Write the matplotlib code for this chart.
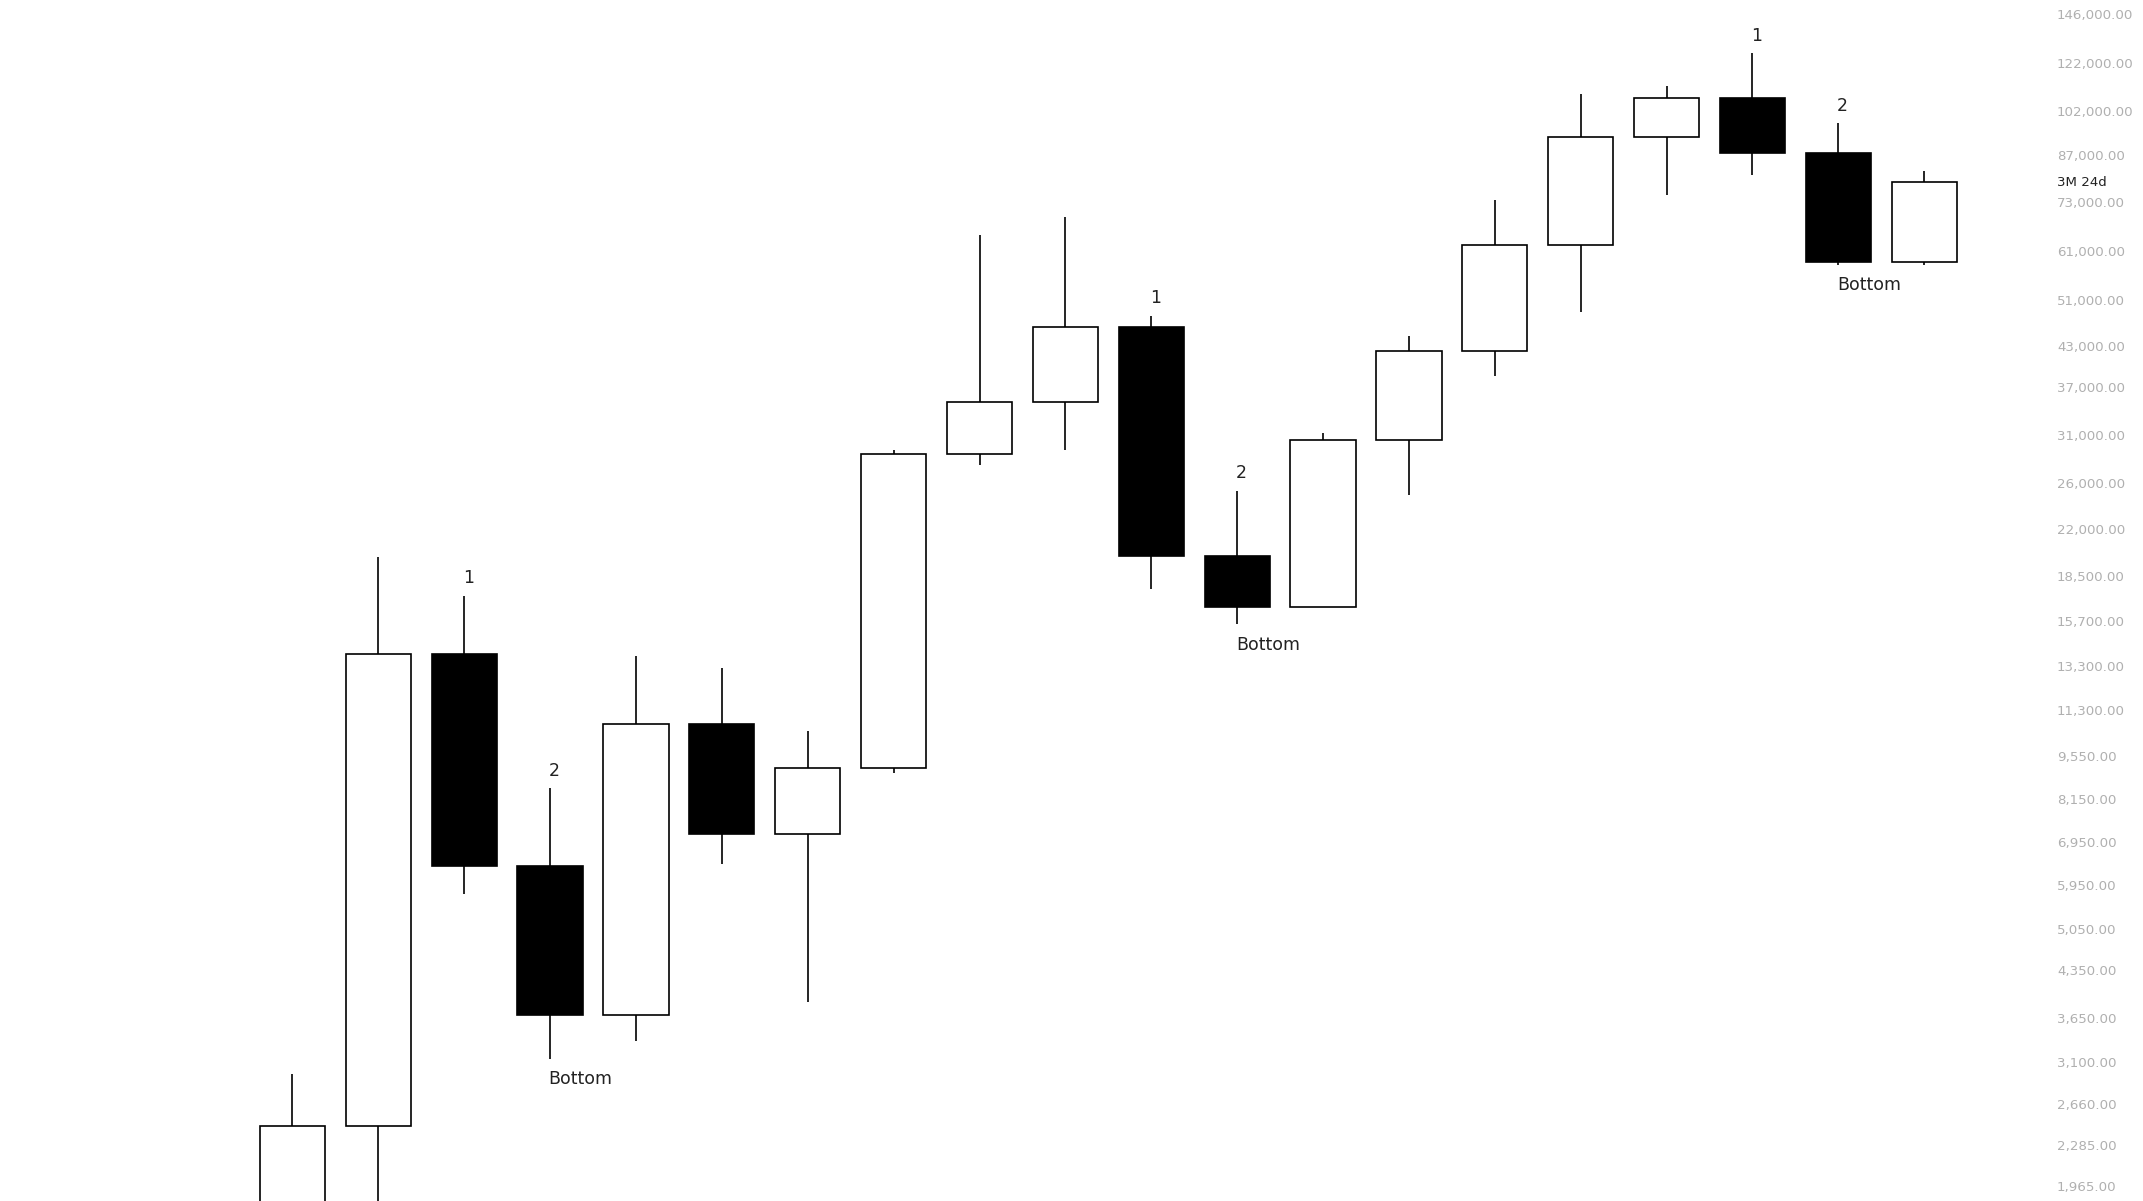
import matplotlib.pyplot as plt
import numpy as np

# quarterly candles (3M), log price scale
opens  = [1500, 2455, 13870, 6364, 3683, 10730, 7182, 9140, 28990, 35090,
          46250, 19900, 16530, 30500, 42250, 62520, 92930, 106960, 87500, 58550]
closes = [2455, 13870, 6364, 3683, 10730, 7182, 9140, 28990, 35090, 46250,
          19900, 16530, 30500, 42250, 62520, 92930, 106960, 87500, 58550, 78740]
highs  = [2968, 19800, 17200, 8480, 13800, 13190, 10470, 29400, 64700, 69100,
          48150, 25320, 31270, 44650, 73760, 108600, 111900, 126200, 97720, 81970]
lows   = [1300, 1500, 5758, 3138, 3348, 6427, 3872, 8960, 27860, 29430,
          17640, 15480, 16530, 24930, 38600, 48880, 74890, 80740, 58000, 58000]

# pattern labels: (candle index, text, above/below)
marks = [(2, '1', 'top'), (3, '2', 'top'), (3, 'Bottom', 'bot'),
         (10, '1', 'top'), (11, '2', 'top'), (11, 'Bottom', 'bot'),
         (17, '1', 'top'), (18, '2', 'top'), (18, 'Bottom', 'bot')]

price_ticks = [146000, 122000, 102000, 87000, 73000, 61000, 51000, 43000, 37000,
               31000, 26000, 22000, 18500, 15700, 13300, 11300, 9550, 8150, 6950,
               5950, 5050, 4350, 3650, 3100, 2660, 2285, 1965]

fig = plt.figure(figsize=(21.43, 12.01), dpi=100)
ax = fig.add_axes([0, 0, 1, 1])
ax.set_yscale('log')

x = np.arange(len(opens))
up = np.array(closes) >= np.array(opens)
bottoms = np.minimum(opens, closes)
heights = np.abs(np.array(closes) - np.array(opens))

ax.vlines(x, lows, highs, color='black', lw=1.2, zorder=1)
ax.bar(x, heights, bottom=bottoms, width=0.76,
       color=np.where(up, 'white', 'black'), edgecolor='black', lw=1.2, zorder=2)

for i, txt, pos in marks:
    if pos == 'top':
        ax.annotate(txt, (x[i], highs[i]), xytext=(-1, 6), textcoords='offset points',
                    ha='left', va='bottom', fontsize=12.5, color='#222222')
    else:
        ax.annotate(txt, (x[i], lows[i]), xytext=(-1, -8), textcoords='offset points',
                    ha='left', va='top', fontsize=12.5, color='#222222')

ax.set_xlim(-3.405, 21.547)
ax.set_ylim(1861.8, 153520)

ax.minorticks_off()
ax.yaxis.tick_right()
ax.set_yticks(price_ticks)
ax.set_yticklabels(['{:,.2f}'.format(v) for v in price_ticks])
ax.tick_params(axis='y', length=0, pad=-62, labelsize=9.6, labelcolor='#b0b0b0')
for lab in ax.get_yticklabels():
    lab.set_horizontalalignment('left')
ax.set_xticks([])
for s in ax.spines.values():
    s.set_visible(False)

fig.text(2057 / 2143, 1 - 183 / 1201, '3M 24d', fontsize=9.6, color='#222222',
         ha='left', va='center')

fig.savefig('out.png', dpi=100)
